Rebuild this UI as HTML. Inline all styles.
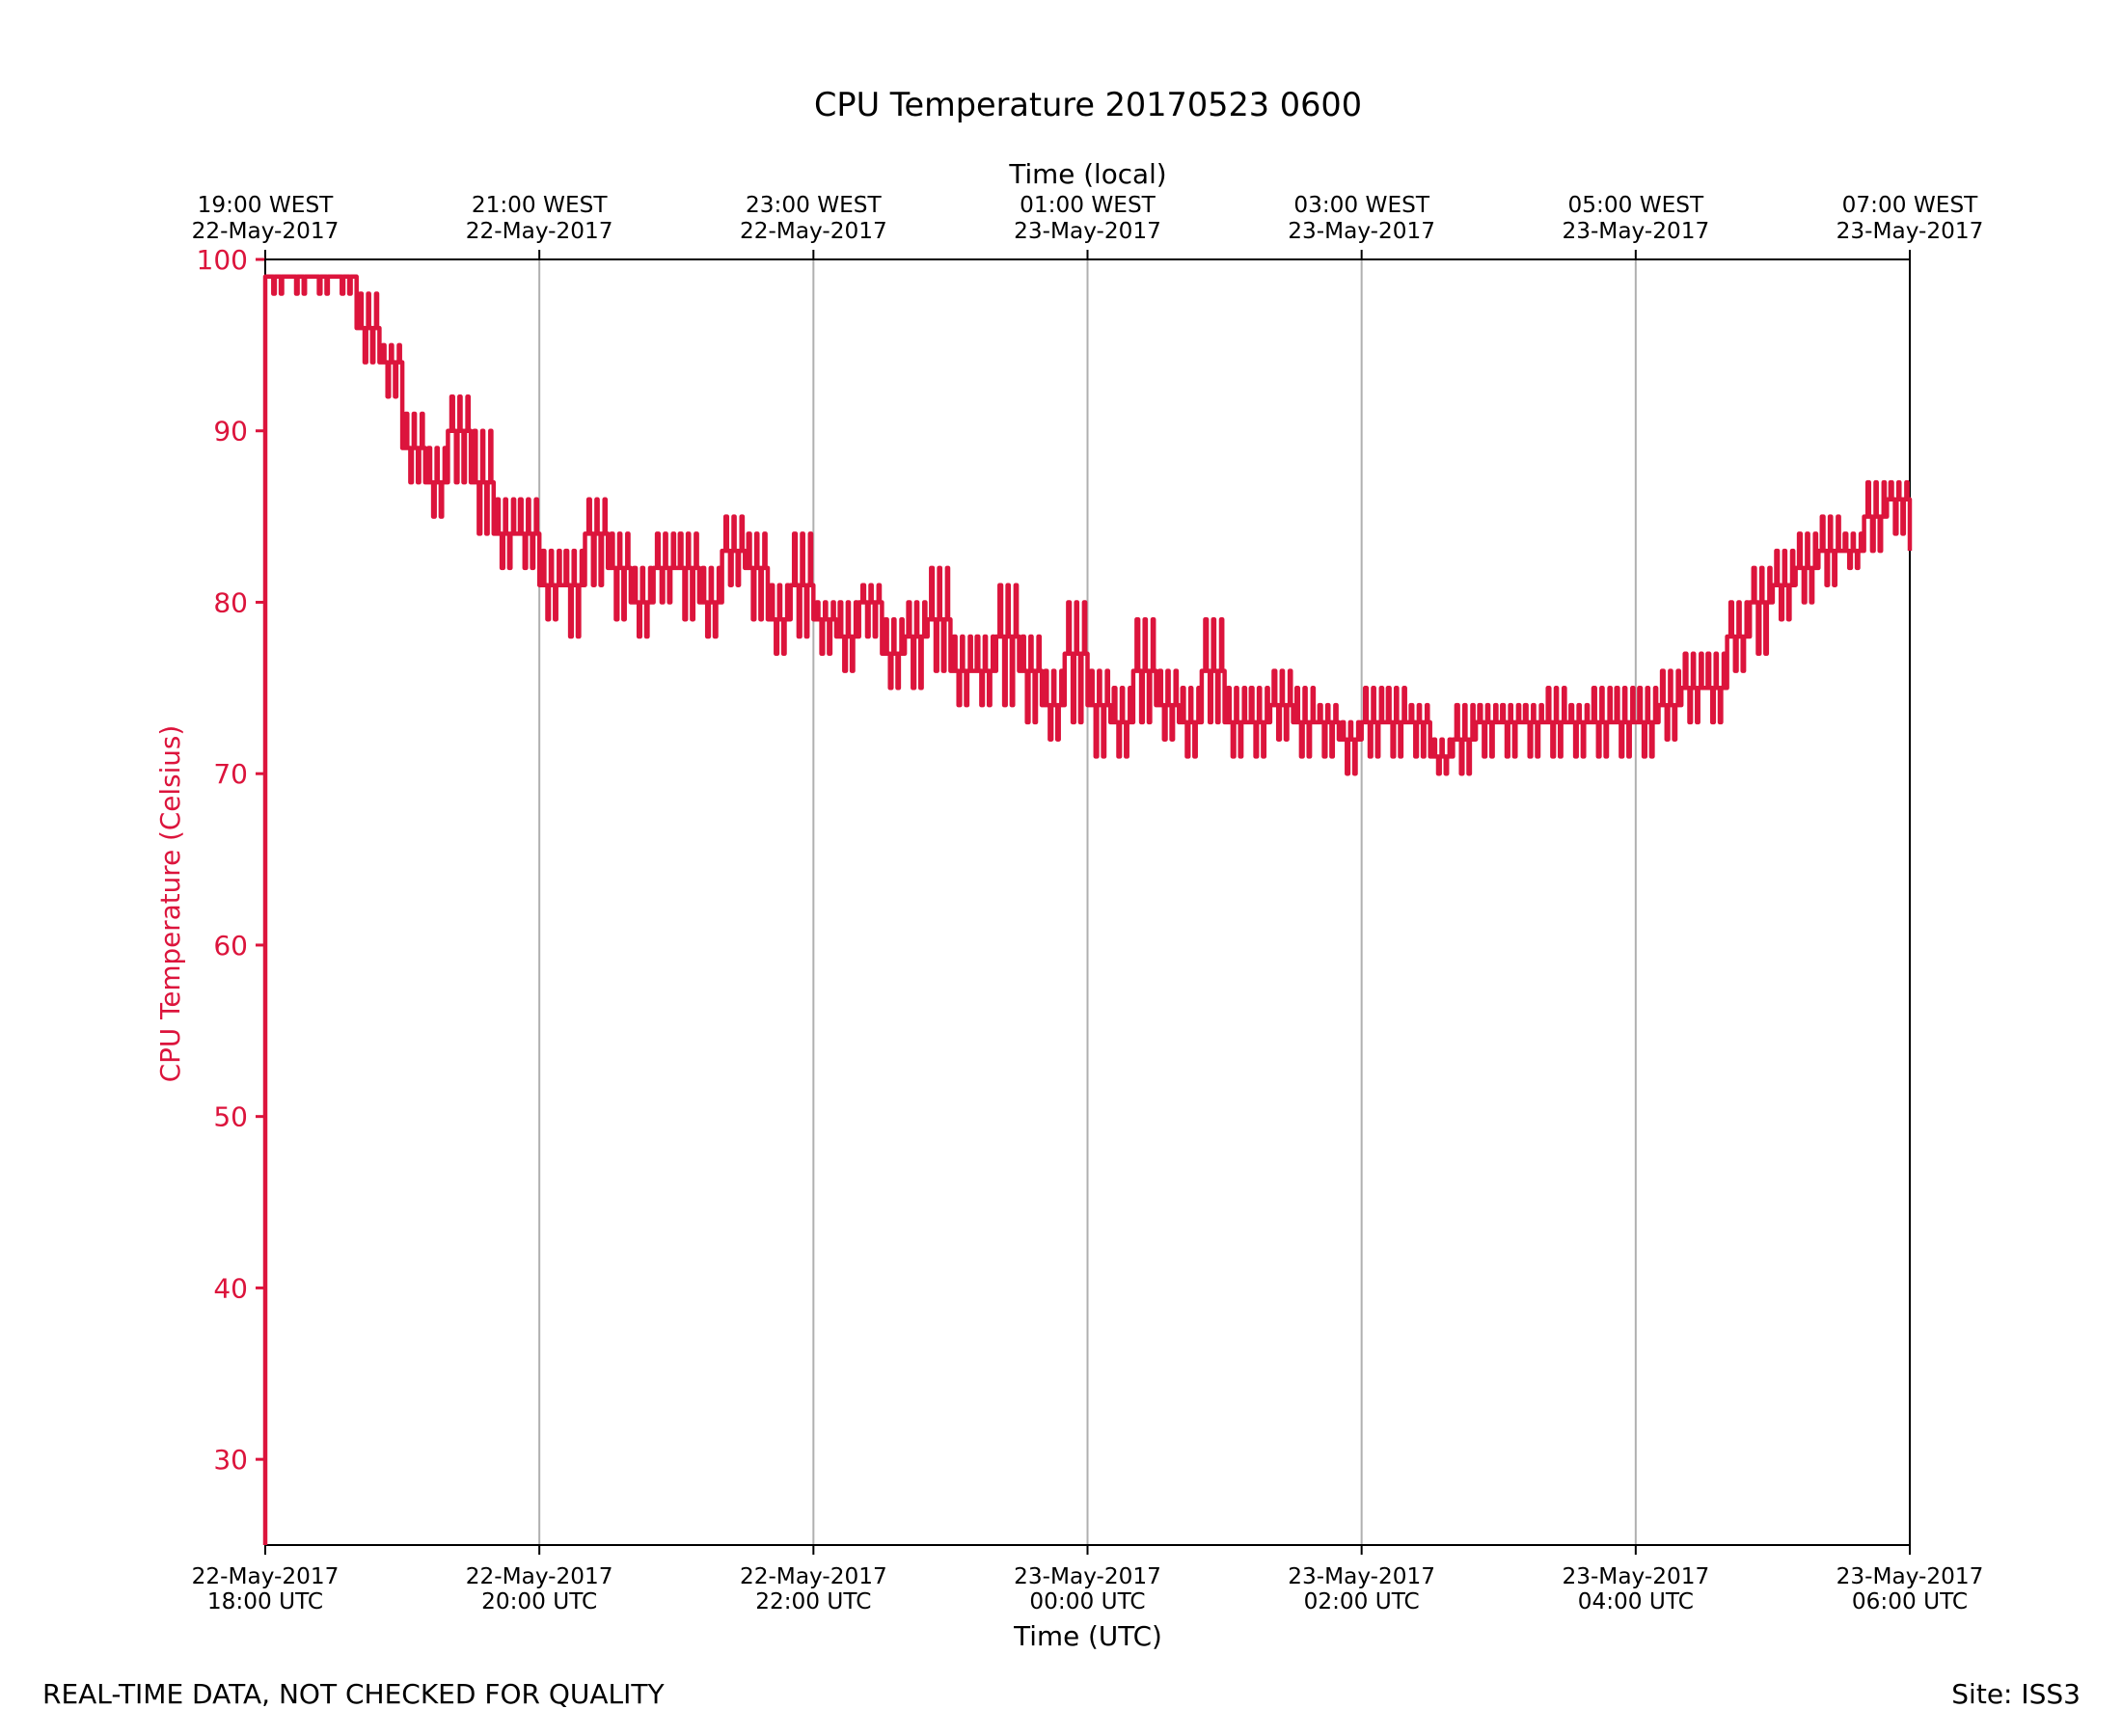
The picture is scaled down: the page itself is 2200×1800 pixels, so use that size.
<!DOCTYPE html>
<html><head><meta charset="utf-8">
<style>
html,body{margin:0;padding:0;background:#fff;}
svg{display:block;font-family:"DejaVu Sans","Liberation Sans",sans-serif;}
</style></head>
<body>
<svg id="chart" width="2200" height="1800" viewBox="0 0 2200 1800" xmlns="http://www.w3.org/2000/svg">
<rect width="2200" height="1800" fill="#fff"/>
<text x="1128" y="120" font-size="33.5" text-anchor="middle">CPU Temperature 20170523 0600</text>
<text x="1128" y="190" font-size="27.8" text-anchor="middle">Time (local)</text>
<text x="1128" y="1706" font-size="27.8" text-anchor="middle">Time (UTC)</text>
<text transform="translate(186,937) rotate(-90)" font-size="27.8" text-anchor="middle" fill="#dc143c">CPU Temperature (Celsius)</text>
<text x="44" y="1766" font-size="28">REAL-TIME DATA, NOT CHECKED FOR QUALITY</text>
<text x="2157" y="1766" font-size="28" text-anchor="end">Site: ISS3</text>
<g id="grid"></g>
<g id="axes"></g>
<g id="series"></g>
</svg>
<script>
const yTicks = [30,40,50,60,70,80,90,100];
const xTickHours = [0,2,4,6,8,10,12];
const bottomLabels1 = ["22-May-2017","22-May-2017","22-May-2017","23-May-2017","23-May-2017","23-May-2017","23-May-2017"];
const bottomLabels2 = ["18:00 UTC","20:00 UTC","22:00 UTC","00:00 UTC","02:00 UTC","04:00 UTC","06:00 UTC"];
const topLabels1 = ["19:00 WEST","21:00 WEST","23:00 WEST","01:00 WEST","03:00 WEST","05:00 WEST","07:00 WEST"];
const topLabels2 = ["22-May-2017","22-May-2017","22-May-2017","23-May-2017","23-May-2017","23-May-2017","23-May-2017"];
// 10-minute buckets: minutes since 18:00 UTC, low and high temperature in each bucket
const bucketMinutes = [0,10,20,30,40,50,60,70,80,90,100,110,120,130,140,150,160,170,180,190,200,210,220,230,240,250,260,270,280,290,300,310,320,330,340,350,360,370,380,390,400,410,420,430,440,450,460,470,480,490,500,510,520,530,540,550,560,570,580,590,600,610,620,630,640,650,660,670,680,690,700,710];
const lowTemps = [98,98,98,98,94,92,87,85,87,84,82,82,79,78,81,79,78,80,79,78,81,79,77,78,77,76,78,75,75,76,74,74,74,73,72,73,71,71,73,72,71,73,71,71,72,71,71,70,71,71,71,70,70,71,71,71,71,71,71,71,71,72,73,73,76,77,79,80,81,82,83,84];
const highTemps = [99,99,99,99,98,95,91,89,92,90,86,86,83,83,86,84,82,84,84,82,85,84,81,84,80,80,81,79,80,82,78,78,81,78,76,80,76,75,79,76,75,79,75,75,76,75,74,73,75,75,74,72,74,74,74,74,75,74,75,75,75,76,77,77,80,82,83,84,85,84,87,87];
const startValue = 25;
const endValue = 83;

const L=275,R=1980,T=269,B=1602,Y0=25,Y1=100;
const xs = m => L + (m/720)*(R-L);
const ys = v => B - (v-Y0)/(Y1-Y0)*(B-T);
const NS="http://www.w3.org/2000/svg";
function mk(tag, attrs, parent){const e=document.createElementNS(NS,tag);for(const k in attrs)e.setAttribute(k,attrs[k]);parent.appendChild(e);return e;}
const grid=document.getElementById('grid'), axes=document.getElementById('axes'), series=document.getElementById('series');

xTickHours.forEach((h,i)=>{
  const x=xs(h*60);
  if(i>0&&i<xTickHours.length-1){
    const g=mk('line',{x1:x,x2:x,y1:T,y2:B,stroke:'#b0b0b0','stroke-width':2},grid);
    
    
  }
  const t1=mk('line',{x1:x,x2:x,y1:B,y2:B+10,stroke:'#000','stroke-width':2},axes);
  
  
  const t2=mk('line',{x1:x,x2:x,y1:T,y2:T-10,stroke:'#000','stroke-width':2},axes);
  
  
  const b=mk('text',{x:x,y:1642,'font-size':23.2,'text-anchor':'middle'},axes);
  b.textContent=bottomLabels1[i];
  
  
  const b2=mk('text',{x:x,y:1668,'font-size':23.2,'text-anchor':'middle'},axes);
  b2.textContent=bottomLabels2[i];
  
  
  const tp=mk('text',{x:x,y:220,'font-size':23.2,'text-anchor':'middle'},axes);
  tp.textContent=topLabels1[i];
  
  
  const tp2=mk('text',{x:x,y:247,'font-size':23.2,'text-anchor':'middle'},axes);
  tp2.textContent=topLabels2[i];
  
  
});
yTicks.forEach(v=>{
  const y=ys(v);
  const t=mk('line',{x1:L-10,x2:L,y1:y,y2:y,stroke:'#dc143c','stroke-width':3},axes);
  
  
  const lb=mk('text',{x:L-18,y:y+10,'font-size':28,'text-anchor':'end',fill:'#dc143c'},axes);
  lb.textContent=v;
  
  
});
const frame=mk('rect',{x:L,y:T,width:R-L,height:B-T,fill:'none',stroke:'#000','stroke-width':2},axes);



// series path: per bucket a typical level with short excursions to the bucket low and high
let d='M'+xs(0)+','+ys(startValue)+' L'+xs(0)+','+ys(lowTemps[0]);
const f=v=>v.toFixed(1);
for(let i=0;i<bucketMinutes.length;i++){
  const m0=bucketMinutes[i], m1=(i+1<bucketMinutes.length)?bucketMinutes[i+1]:720;
  const lo=lowTemps[i], hi=highTemps[i], mid=Math.round((lo+hi)/2);
  const w=m1-m0;
  const pts=[[0,mid],[0.15,mid],[0.15,hi],[0.22,hi],[0.22,mid],[0.35,mid],[0.35,lo],[0.42,lo],[0.42,mid],[0.5,mid],[0.5,hi],[0.55,hi],[0.55,mid],[0.68,mid],[0.68,lo],[0.74,lo],[0.74,mid],[0.85,mid],[0.85,hi],[0.9,hi],[0.9,mid],[1,mid]];
  pts.forEach(p=>{ d+=' L'+f(xs(m0+w*p[0]))+','+f(ys(p[1])); });
}
d+=' L'+xs(720)+','+ys(endValue);
const p=mk('path',{d:d,fill:'none',stroke:'#dc143c','stroke-width':4.5,'stroke-linejoin':'round'},series);


</script>
</body></html>
